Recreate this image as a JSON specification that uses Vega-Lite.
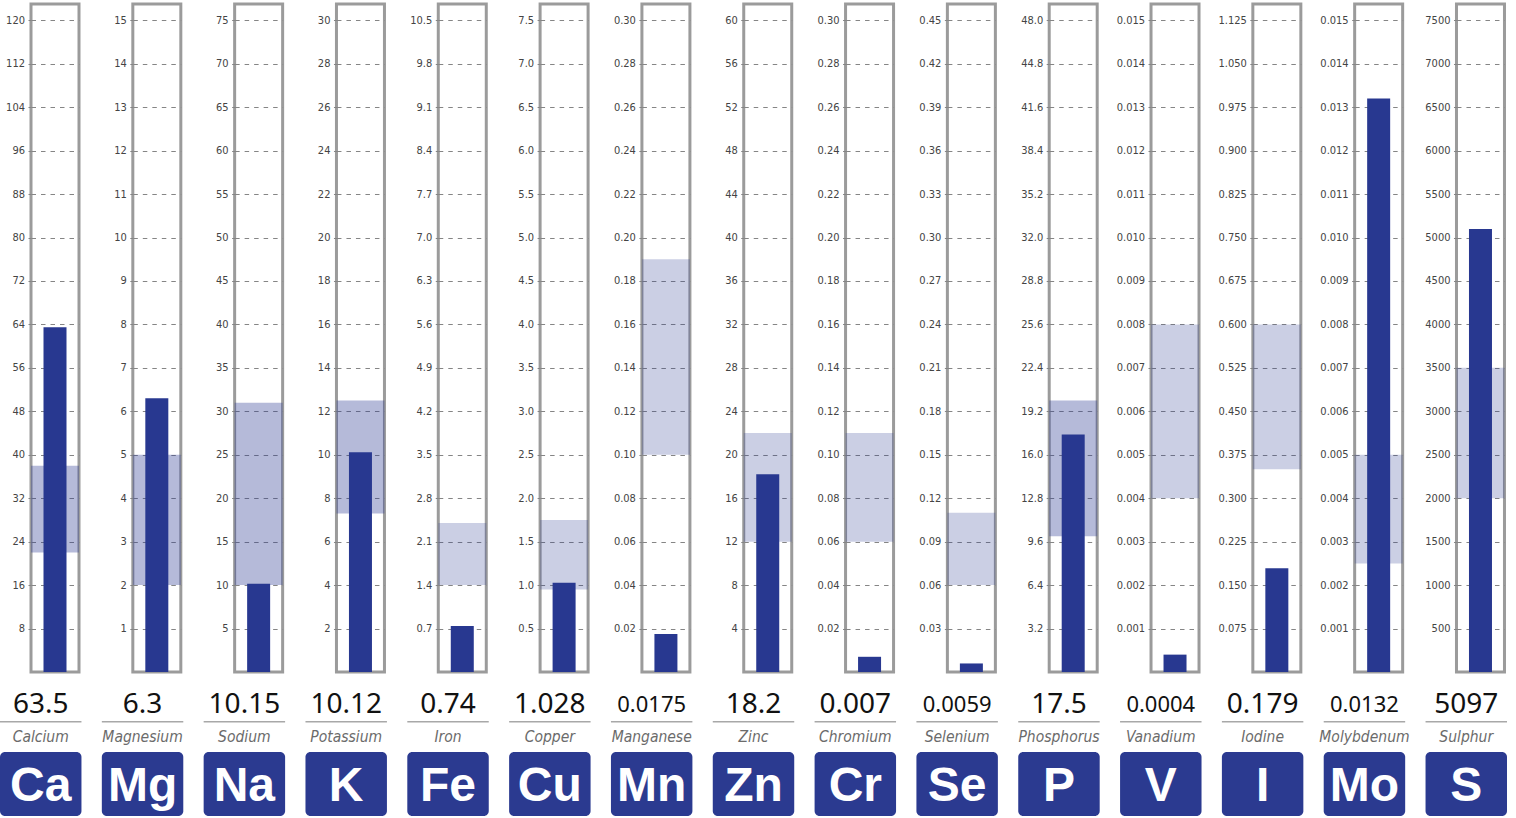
{
  "$schema": "https://vega.github.io/schema/vega-lite/v6.json",
  "padding": {"left": 0, "top": 2, "right": 0, "bottom": 0},
  "background": "white",
  "datasets": {
    "minerals": [
      {"symbol": "Ca", "name": "Calcium", "value": 63.5, "low": 22, "high": 38, "group": "major"},
      {"symbol": "Mg", "name": "Magnesium", "value": 6.3, "low": 2, "high": 5, "group": "major"},
      {"symbol": "Na", "name": "Sodium", "value": 10.15, "low": 10, "high": 31, "group": "major"},
      {"symbol": "K", "name": "Potassium", "value": 10.12, "low": 7.3, "high": 12.5, "group": "major"},
      {"symbol": "Fe", "name": "Iron", "value": 0.74, "low": 1.4, "high": 2.4, "group": "trace"},
      {"symbol": "Cu", "name": "Copper", "value": 1.028, "low": 0.95, "high": 1.75, "group": "trace"},
      {"symbol": "Mn", "name": "Manganese", "value": 0.0175, "low": 0.1, "high": 0.19, "group": "trace"},
      {"symbol": "Zn", "name": "Zinc", "value": 18.2, "low": 12, "high": 22, "group": "trace"},
      {"symbol": "Cr", "name": "Chromium", "value": 0.007, "low": 0.06, "high": 0.11, "group": "trace"},
      {"symbol": "Se", "name": "Selenium", "value": 0.0059, "low": 0.06, "high": 0.11, "group": "trace"},
      {"symbol": "P", "name": "Phosphorus", "value": 17.5, "low": 10, "high": 20, "group": "major"},
      {"symbol": "V", "name": "Vanadium", "value": 0.0004, "low": 0.004, "high": 0.008, "group": "trace"},
      {"symbol": "I", "name": "Iodine", "value": 0.179, "low": 0.35, "high": 0.6, "group": "trace"},
      {"symbol": "Mo", "name": "Molybdenum", "value": 0.0132, "low": 0.0025, "high": 0.005, "group": "trace"},
      {"symbol": "S", "name": "Sulphur", "value": 5097, "low": 2000, "high": 3500, "group": "trace"}
    ]
  },
  "data": {"name": "minerals"},
  "config": {
    "view": {"stroke": "#9b9b9b", "strokeWidth": 3},
    "axis": {
      "domain": false, "grid": true, "gridColor": "#858585", "gridDash": [4.5, 5], "gridWidth": 1,
      "ticks": true, "tickSize": 3, "tickColor": "#858585",
      "labelFont": "DejaVu Sans Condensed, Liberation Sans, sans-serif", "labelFontSize": 11, "labelColor": "#444444", "labelPadding": 3.5
    }
  },
  "spacing": 0,
  "vconcat": [
    {
      "spacing": 53.82,
      "bounds": "flush",
      "resolve": {"scale": {"x": "independent", "y": "independent"}},
      "hconcat": [
        {"width": 48, "height": 668, "transform": [{"filter": "datum.symbol === 'Ca'"}], "layer": [
          {"mark": {"type": "rect"}, "encoding": {"y": {"field": "low", "type": "quantitative", "title": null, "scale": {"domain": [0, 123], "nice": false, "zero": true}, "axis": {"values": [8,16,24,32,40,48,56,64,72,80,88,96,104,112,120], "format": "d"}}, "y2": {"field": "high"}, "color": {"field": "group", "type": "nominal", "scale": {"domain": ["major", "trace"], "range": ["rgba(40,56,145,0.345)", "rgba(40,56,145,0.245)"]}, "legend": null}}},
          {"mark": {"type": "bar", "width": 23, "color": "#283890"}, "encoding": {"x": {"field": "symbol", "type": "nominal", "axis": null}, "y": {"field": "value", "type": "quantitative", "title": null}}}
        ]},
        {"width": 48, "height": 668, "transform": [{"filter": "datum.symbol === 'Mg'"}], "layer": [
          {"mark": {"type": "rect"}, "encoding": {"y": {"field": "low", "type": "quantitative", "title": null, "scale": {"domain": [0, 15.375], "nice": false, "zero": true}, "axis": {"values": [1,2,3,4,5,6,7,8,9,10,11,12,13,14,15], "format": "d"}}, "y2": {"field": "high"}, "color": {"field": "group", "type": "nominal", "scale": {"domain": ["major", "trace"], "range": ["rgba(40,56,145,0.345)", "rgba(40,56,145,0.245)"]}, "legend": null}}},
          {"mark": {"type": "bar", "width": 23, "color": "#283890"}, "encoding": {"x": {"field": "symbol", "type": "nominal", "axis": null}, "y": {"field": "value", "type": "quantitative", "title": null}}}
        ]},
        {"width": 48, "height": 668, "transform": [{"filter": "datum.symbol === 'Na'"}], "layer": [
          {"mark": {"type": "rect"}, "encoding": {"y": {"field": "low", "type": "quantitative", "title": null, "scale": {"domain": [0, 76.875], "nice": false, "zero": true}, "axis": {"values": [5,10,15,20,25,30,35,40,45,50,55,60,65,70,75], "format": "d"}}, "y2": {"field": "high"}, "color": {"field": "group", "type": "nominal", "scale": {"domain": ["major", "trace"], "range": ["rgba(40,56,145,0.345)", "rgba(40,56,145,0.245)"]}, "legend": null}}},
          {"mark": {"type": "bar", "width": 23, "color": "#283890"}, "encoding": {"x": {"field": "symbol", "type": "nominal", "axis": null}, "y": {"field": "value", "type": "quantitative", "title": null}}}
        ]},
        {"width": 48, "height": 668, "transform": [{"filter": "datum.symbol === 'K'"}], "layer": [
          {"mark": {"type": "rect"}, "encoding": {"y": {"field": "low", "type": "quantitative", "title": null, "scale": {"domain": [0, 30.75], "nice": false, "zero": true}, "axis": {"values": [2,4,6,8,10,12,14,16,18,20,22,24,26,28,30], "format": "d"}}, "y2": {"field": "high"}, "color": {"field": "group", "type": "nominal", "scale": {"domain": ["major", "trace"], "range": ["rgba(40,56,145,0.345)", "rgba(40,56,145,0.245)"]}, "legend": null}}},
          {"mark": {"type": "bar", "width": 23, "color": "#283890"}, "encoding": {"x": {"field": "symbol", "type": "nominal", "axis": null}, "y": {"field": "value", "type": "quantitative", "title": null}}}
        ]},
        {"width": 48, "height": 668, "transform": [{"filter": "datum.symbol === 'Fe'"}], "layer": [
          {"mark": {"type": "rect"}, "encoding": {"y": {"field": "low", "type": "quantitative", "title": null, "scale": {"domain": [0, 10.7625], "nice": false, "zero": true}, "axis": {"values": [0.7,1.4,2.1,2.8,3.5,4.2,4.9,5.6,6.3,7.0,7.7,8.4,9.1,9.8,10.5], "format": ".1f"}}, "y2": {"field": "high"}, "color": {"field": "group", "type": "nominal", "scale": {"domain": ["major", "trace"], "range": ["rgba(40,56,145,0.345)", "rgba(40,56,145,0.245)"]}, "legend": null}}},
          {"mark": {"type": "bar", "width": 23, "color": "#283890"}, "encoding": {"x": {"field": "symbol", "type": "nominal", "axis": null}, "y": {"field": "value", "type": "quantitative", "title": null}}}
        ]},
        {"width": 48, "height": 668, "transform": [{"filter": "datum.symbol === 'Cu'"}], "layer": [
          {"mark": {"type": "rect"}, "encoding": {"y": {"field": "low", "type": "quantitative", "title": null, "scale": {"domain": [0, 7.6875], "nice": false, "zero": true}, "axis": {"values": [0.5,1.0,1.5,2.0,2.5,3.0,3.5,4.0,4.5,5.0,5.5,6.0,6.5,7.0,7.5], "format": ".1f"}}, "y2": {"field": "high"}, "color": {"field": "group", "type": "nominal", "scale": {"domain": ["major", "trace"], "range": ["rgba(40,56,145,0.345)", "rgba(40,56,145,0.245)"]}, "legend": null}}},
          {"mark": {"type": "bar", "width": 23, "color": "#283890"}, "encoding": {"x": {"field": "symbol", "type": "nominal", "axis": null}, "y": {"field": "value", "type": "quantitative", "title": null}}}
        ]},
        {"width": 48, "height": 668, "transform": [{"filter": "datum.symbol === 'Mn'"}], "layer": [
          {"mark": {"type": "rect"}, "encoding": {"y": {"field": "low", "type": "quantitative", "title": null, "scale": {"domain": [0, 0.3075], "nice": false, "zero": true}, "axis": {"values": [0.02,0.04,0.06,0.08,0.10,0.12,0.14,0.16,0.18,0.20,0.22,0.24,0.26,0.28,0.30], "format": ".2f"}}, "y2": {"field": "high"}, "color": {"field": "group", "type": "nominal", "scale": {"domain": ["major", "trace"], "range": ["rgba(40,56,145,0.345)", "rgba(40,56,145,0.245)"]}, "legend": null}}},
          {"mark": {"type": "bar", "width": 23, "color": "#283890"}, "encoding": {"x": {"field": "symbol", "type": "nominal", "axis": null}, "y": {"field": "value", "type": "quantitative", "title": null}}}
        ]},
        {"width": 48, "height": 668, "transform": [{"filter": "datum.symbol === 'Zn'"}], "layer": [
          {"mark": {"type": "rect"}, "encoding": {"y": {"field": "low", "type": "quantitative", "title": null, "scale": {"domain": [0, 61.5], "nice": false, "zero": true}, "axis": {"values": [4,8,12,16,20,24,28,32,36,40,44,48,52,56,60], "format": "d"}}, "y2": {"field": "high"}, "color": {"field": "group", "type": "nominal", "scale": {"domain": ["major", "trace"], "range": ["rgba(40,56,145,0.345)", "rgba(40,56,145,0.245)"]}, "legend": null}}},
          {"mark": {"type": "bar", "width": 23, "color": "#283890"}, "encoding": {"x": {"field": "symbol", "type": "nominal", "axis": null}, "y": {"field": "value", "type": "quantitative", "title": null}}}
        ]},
        {"width": 48, "height": 668, "transform": [{"filter": "datum.symbol === 'Cr'"}], "layer": [
          {"mark": {"type": "rect"}, "encoding": {"y": {"field": "low", "type": "quantitative", "title": null, "scale": {"domain": [0, 0.3075], "nice": false, "zero": true}, "axis": {"values": [0.02,0.04,0.06,0.08,0.10,0.12,0.14,0.16,0.18,0.20,0.22,0.24,0.26,0.28,0.30], "format": ".2f"}}, "y2": {"field": "high"}, "color": {"field": "group", "type": "nominal", "scale": {"domain": ["major", "trace"], "range": ["rgba(40,56,145,0.345)", "rgba(40,56,145,0.245)"]}, "legend": null}}},
          {"mark": {"type": "bar", "width": 23, "color": "#283890"}, "encoding": {"x": {"field": "symbol", "type": "nominal", "axis": null}, "y": {"field": "value", "type": "quantitative", "title": null}}}
        ]},
        {"width": 48, "height": 668, "transform": [{"filter": "datum.symbol === 'Se'"}], "layer": [
          {"mark": {"type": "rect"}, "encoding": {"y": {"field": "low", "type": "quantitative", "title": null, "scale": {"domain": [0, 0.46125], "nice": false, "zero": true}, "axis": {"values": [0.03,0.06,0.09,0.12,0.15,0.18,0.21,0.24,0.27,0.30,0.33,0.36,0.39,0.42,0.45], "format": ".2f"}}, "y2": {"field": "high"}, "color": {"field": "group", "type": "nominal", "scale": {"domain": ["major", "trace"], "range": ["rgba(40,56,145,0.345)", "rgba(40,56,145,0.245)"]}, "legend": null}}},
          {"mark": {"type": "bar", "width": 23, "color": "#283890"}, "encoding": {"x": {"field": "symbol", "type": "nominal", "axis": null}, "y": {"field": "value", "type": "quantitative", "title": null}}}
        ]},
        {"width": 48, "height": 668, "transform": [{"filter": "datum.symbol === 'P'"}], "layer": [
          {"mark": {"type": "rect"}, "encoding": {"y": {"field": "low", "type": "quantitative", "title": null, "scale": {"domain": [0, 49.2], "nice": false, "zero": true}, "axis": {"values": [3.2,6.4,9.6,12.8,16.0,19.2,22.4,25.6,28.8,32.0,35.2,38.4,41.6,44.8,48.0], "format": ".1f"}}, "y2": {"field": "high"}, "color": {"field": "group", "type": "nominal", "scale": {"domain": ["major", "trace"], "range": ["rgba(40,56,145,0.345)", "rgba(40,56,145,0.245)"]}, "legend": null}}},
          {"mark": {"type": "bar", "width": 23, "color": "#283890"}, "encoding": {"x": {"field": "symbol", "type": "nominal", "axis": null}, "y": {"field": "value", "type": "quantitative", "title": null}}}
        ]},
        {"width": 48, "height": 668, "transform": [{"filter": "datum.symbol === 'V'"}], "layer": [
          {"mark": {"type": "rect"}, "encoding": {"y": {"field": "low", "type": "quantitative", "title": null, "scale": {"domain": [0, 0.015375], "nice": false, "zero": true}, "axis": {"values": [0.001,0.002,0.003,0.004,0.005,0.006,0.007,0.008,0.009,0.010,0.011,0.012,0.013,0.014,0.015], "format": ".3f"}}, "y2": {"field": "high"}, "color": {"field": "group", "type": "nominal", "scale": {"domain": ["major", "trace"], "range": ["rgba(40,56,145,0.345)", "rgba(40,56,145,0.245)"]}, "legend": null}}},
          {"mark": {"type": "bar", "width": 23, "color": "#283890"}, "encoding": {"x": {"field": "symbol", "type": "nominal", "axis": null}, "y": {"field": "value", "type": "quantitative", "title": null}}}
        ]},
        {"width": 48, "height": 668, "transform": [{"filter": "datum.symbol === 'I'"}], "layer": [
          {"mark": {"type": "rect"}, "encoding": {"y": {"field": "low", "type": "quantitative", "title": null, "scale": {"domain": [0, 1.153125], "nice": false, "zero": true}, "axis": {"values": [0.075,0.15,0.225,0.3,0.375,0.45,0.525,0.6,0.675,0.75,0.825,0.9,0.975,1.05,1.125], "format": ".3f"}}, "y2": {"field": "high"}, "color": {"field": "group", "type": "nominal", "scale": {"domain": ["major", "trace"], "range": ["rgba(40,56,145,0.345)", "rgba(40,56,145,0.245)"]}, "legend": null}}},
          {"mark": {"type": "bar", "width": 23, "color": "#283890"}, "encoding": {"x": {"field": "symbol", "type": "nominal", "axis": null}, "y": {"field": "value", "type": "quantitative", "title": null}}}
        ]},
        {"width": 48, "height": 668, "transform": [{"filter": "datum.symbol === 'Mo'"}], "layer": [
          {"mark": {"type": "rect"}, "encoding": {"y": {"field": "low", "type": "quantitative", "title": null, "scale": {"domain": [0, 0.015375], "nice": false, "zero": true}, "axis": {"values": [0.001,0.002,0.003,0.004,0.005,0.006,0.007,0.008,0.009,0.010,0.011,0.012,0.013,0.014,0.015], "format": ".3f"}}, "y2": {"field": "high"}, "color": {"field": "group", "type": "nominal", "scale": {"domain": ["major", "trace"], "range": ["rgba(40,56,145,0.345)", "rgba(40,56,145,0.245)"]}, "legend": null}}},
          {"mark": {"type": "bar", "width": 23, "color": "#283890"}, "encoding": {"x": {"field": "symbol", "type": "nominal", "axis": null}, "y": {"field": "value", "type": "quantitative", "title": null}}}
        ]},
        {"width": 48, "height": 668, "transform": [{"filter": "datum.symbol === 'S'"}], "layer": [
          {"mark": {"type": "rect"}, "encoding": {"y": {"field": "low", "type": "quantitative", "title": null, "scale": {"domain": [0, 7687.5], "nice": false, "zero": true}, "axis": {"values": [500,1000,1500,2000,2500,3000,3500,4000,4500,5000,5500,6000,6500,7000,7500], "format": "d"}}, "y2": {"field": "high"}, "color": {"field": "group", "type": "nominal", "scale": {"domain": ["major", "trace"], "range": ["rgba(40,56,145,0.345)", "rgba(40,56,145,0.245)"]}, "legend": null}}},
          {"mark": {"type": "bar", "width": 23, "color": "#283890"}, "encoding": {"x": {"field": "symbol", "type": "nominal", "axis": null}, "y": {"field": "value", "type": "quantitative", "title": null}}}
        ]}
      ]
    },
    {
      "width": 1476, "height": 47, "view": {"stroke": null},
      "mark": {"type": "text", "font": "Noto Sans", "color": "#111111", "dy": 7},
      "encoding": {
        "x": {"field": "symbol", "type": "nominal", "sort": null, "axis": null, "scale": {"type": "band", "paddingInner": 0.2, "paddingOuter": 0, "range": [-31, 1476]}},
        "text": {"field": "value", "type": "nominal"},
        "size": {"condition": {"test": "length(toString(datum.value)) > 5", "value": 22}, "value": 28}
      }
    },
    {
      "width": 1476, "height": 1.5, "view": {"stroke": null},
      "mark": {"type": "rect", "color": "#a8a8a8"},
      "encoding": {
        "x": {"field": "symbol", "type": "nominal", "sort": null, "axis": null, "scale": {"type": "band", "paddingInner": 0.2, "paddingOuter": 0, "range": [-31, 1476]}}
      }
    },
    {
      "width": 1476, "height": 29, "view": {"stroke": null},
      "mark": {"type": "text", "font": "DejaVu Sans Condensed, Liberation Sans, sans-serif", "fontStyle": "italic", "fontSize": 15.5, "color": "#6b6b6b", "dy": -0.5},
      "encoding": {
        "x": {"field": "symbol", "type": "nominal", "sort": null, "axis": null, "scale": {"type": "band", "paddingInner": 0.2, "paddingOuter": 0, "range": [-31, 1476]}},
        "text": {"field": "name", "type": "nominal"}
      }
    },
    {
      "width": 1476, "height": 64, "view": {"stroke": null},
      "encoding": {
        "x": {"field": "symbol", "type": "nominal", "sort": null, "axis": null, "scale": {"type": "band", "paddingInner": 0.2, "paddingOuter": 0, "range": [-31, 1476]}}
      },
      "layer": [
        {"mark": {"type": "rect", "color": "#2b3a90", "cornerRadius": 5}},
        {"mark": {"type": "text", "font": "Liberation Sans", "fontWeight": "bold", "fontSize": 48, "color": "white", "dy": 3}, "encoding": {"text": {"field": "symbol", "type": "nominal"}}}
      ]
    }
  ]
}
